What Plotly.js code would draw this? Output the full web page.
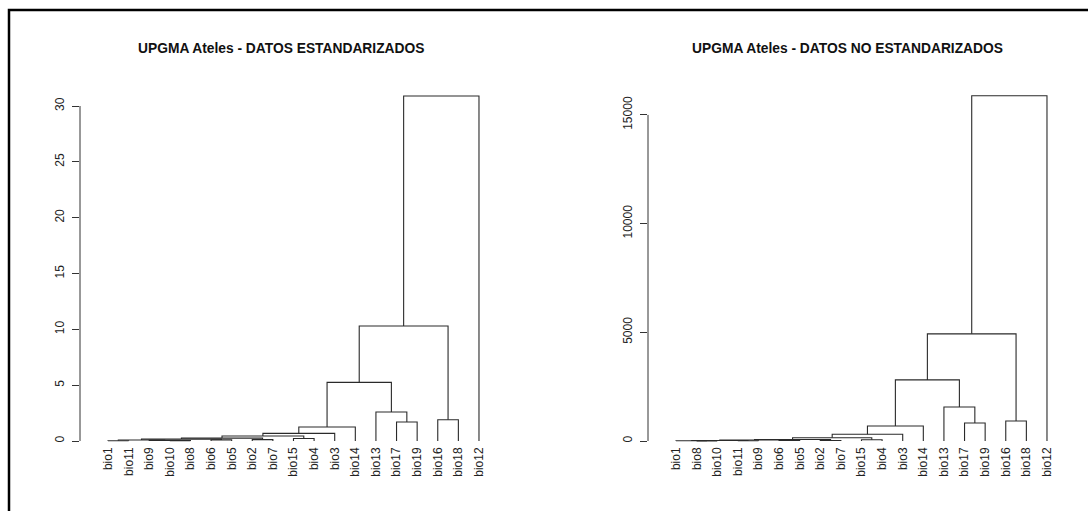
<!DOCTYPE html>
<html>
<head>
<meta charset="utf-8">
<script src="https://cdn.plot.ly/plotly-3.0.1.min.js"></script>
<style>html,body{margin:0;padding:0;background:#fff;}#chart{width:1088px;height:511px;}</style>
</head>
<body>
<div id="chart"></div>
<script>
// ---------- DATA ----------
// Leaf labels in the order they appear on each dendrogram
var leavesStd = ["bio1","bio11","bio9","bio10","bio8","bio6","bio5","bio2","bio7","bio15","bio4","bio3","bio14","bio13","bio17","bio19","bio16","bio18","bio12"];
var leavesRaw = ["bio1","bio8","bio10","bio11","bio9","bio6","bio5","bio2","bio7","bio15","bio4","bio3","bio14","bio13","bio17","bio19","bio16","bio18","bio12"];

// hclust-style merges: negative = leaf (1-based position in leaves), positive = earlier merge (1-based)
var mergeLeftStd  = [-1,-4,-3, 1,-6, 4,-8, 6,-10, 8,10,11,-15,-14,12,-17,15,17];
var mergeRightStd = [-2,-5, 2, 3,-7, 5,-9, 7,-11, 9,-12,-13,-16, 13,14,-18,16,-19];
var heightsStd    = [0.02,0.03,0.06,0.09,0.10,0.17,0.12,0.26,0.22,0.45,0.68,1.25,1.7,2.6,5.25,1.9,10.3,30.9];

var mergeLeftRaw  = [-2,-1,-4, 2,-6, 4,-8, 6,-10, 8,10,11,-15,-14,12,-17,15,17];
var mergeRightRaw = [-3, 1,-5, 3,-7, 5,-9, 7,-11, 9,-12,-13,-16, 13,14,-18,16,-19];
var heightsRaw    = [5,10,12,25,30,45,25,70,60,150,310,690,830,1565,2810,920,4930,15880];

var titleStd = "UPGMA Ateles - DATOS ESTANDARIZADOS";
var titleRaw = "UPGMA Ateles - DATOS NO ESTANDARIZADOS";
var yTicksStd = [0,5,10,15,20,25,30];
var yTicksRaw = [0,5000,10000,15000];

// ---------- BUILD SEGMENTS ----------
function dendroSegments(mL, mR, h) {
  var cx = [], xs = [], ys = [];
  function pos(ref) {
    if (ref < 0) return [-ref, 0];
    return [cx[ref-1], h[ref-1]];
  }
  for (var i = 0; i < h.length; i++) {
    var a = pos(mL[i]), b = pos(mR[i]);
    xs.push(a[0], a[0], b[0], b[0], null);
    ys.push(a[1], h[i], h[i], b[1], null);
    cx.push((a[0] + b[0]) / 2);
  }
  return {x: xs, y: ys};
}
var segStd = dendroSegments(mergeLeftStd, mergeRightStd, heightsStd);
var segRaw = dendroSegments(mergeLeftRaw, mergeRightRaw, heightsRaw);

var lineStyle = {color: '#2a2a2a', width: 1.1};
var traces = [
  {x: segStd.x, y: segStd.y, mode: 'lines', line: lineStyle, xaxis: 'x', yaxis: 'y', hoverinfo: 'skip', connectgaps: false},
  {x: segRaw.x, y: segRaw.y, mode: 'lines', line: lineStyle, xaxis: 'x2', yaxis: 'y2', hoverinfo: 'skip', connectgaps: false}
];

var W = 1088, H = 511;
function px(v) { return v / W; }
function py(v) { return 1 - v / H; }
var idx = leavesStd.map(function(_, i){ return i + 1; });
var tickFont = {family: 'Liberation Sans, Arial, sans-serif', size: 12, color: '#222'};
var xRange = [-0.3586, 20.02];
var yDom = [py(444), py(81)];

function xAxis(leaves, dom) {
  return {domain: dom, range: xRange, showgrid: false, zeroline: false, showline: false,
          tickmode: 'array', tickvals: idx, ticktext: leaves, tickangle: -90, ticks: '',
          tickfont: tickFont, fixedrange: true};
}
function yAxis(vals, rng, anchor) {
  return {domain: yDom, range: rng, showgrid: false, zeroline: false, showline: false,
          tickmode: 'array', tickvals: vals, ticktext: vals.map(String), tickangle: -90,
          ticks: 'outside', ticklen: 7, tickwidth: 1, tickcolor: '#333', ticklabelstandoff: 3,
          tickfont: tickFont, anchor: anchor, fixedrange: true};
}

var layout = {
  width: W, height: H, margin: {l: 0, r: 0, t: 0, b: 0},
  paper_bgcolor: '#fff', plot_bgcolor: 'rgba(0,0,0,0)', showlegend: false,
  xaxis: xAxis(leavesStd, [px(80), px(500)]),
  yaxis: yAxis(yTicksStd, [-0.269, 32.24], 'x'),
  xaxis2: xAxis(leavesRaw, [px(648), px(1068)]),
  yaxis2: yAxis(yTicksRaw, [-138, 16560], 'x2'),
  annotations: [
    {text: '<b>' + titleStd + '</b>', xref: 'paper', yref: 'paper', x: px(281), y: py(48),
     xanchor: 'center', yanchor: 'middle', showarrow: false,
     font: {family: 'Liberation Sans, Arial, sans-serif', size: 13.8, color: '#111'}},
    {text: '<b>' + titleRaw + '</b>', xref: 'paper', yref: 'paper', x: px(847), y: py(48),
     xanchor: 'center', yanchor: 'middle', showarrow: false,
     font: {family: 'Liberation Sans, Arial, sans-serif', size: 13.8, color: '#111'}}
  ],
  shapes: [
    {type: 'line', xref: 'x domain', yref: 'y', x0: 0, x1: 0, y0: yTicksStd[0], y1: yTicksStd[yTicksStd.length-1],
     line: {color: '#333', width: 1}},
    {type: 'line', xref: 'x2 domain', yref: 'y2', x0: 0, x1: 0, y0: yTicksRaw[0], y1: yTicksRaw[yTicksRaw.length-1],
     line: {color: '#333', width: 1}},
    {type: 'rect', xref: 'paper', yref: 'paper', x0: px(9), x1: px(1200), y0: py(600), y1: py(10),
     line: {color: '#000', width: 2.5}, fillcolor: 'rgba(0,0,0,0)'}
  ]
};

Plotly.newPlot('chart', traces, layout, {staticPlot: true, displayModeBar: false});
</script>
</body>
</html>
